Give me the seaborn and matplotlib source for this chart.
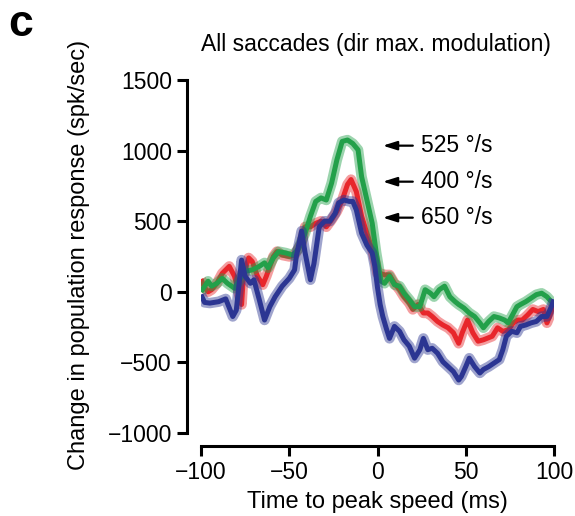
import numpy as np
import pandas as pd
import matplotlib
matplotlib.use("Agg")
import matplotlib.pyplot as plt
import seaborn as sns

# ---- data ----
t_650 = [-100, -98, -95, -90, -86, -82, -80, -77, -75, -72, -70, -67, -64, -61, -58, -54, -50, -47, -46, -43,
         -41, -38, -36, -33, -30, -27, -24, -22, -19, -16, -14, -12, -9, -6, -3, -1.5, 0, 1.5, 3, 5,
         6.8, 9.6, 12.5, 15, 18, 21, 24, 26, 28.5, 31, 34, 37, 40, 43, 46, 47.5, 50, 52, 55, 58,
         60, 63, 66, 69, 71, 73, 76, 79, 81, 84, 87, 90, 93, 96, 98.5, 100]
v_650 = [-20, -75, -80, -70, -50, -175, -130, 225, 110, 60, 85, -55, -200, -105, -35, 40, 95, 155, 250, 430,
         275, 85, 200, 460, 500, 500, 555, 630, 650, 640, 640, 580, 415, 330, 275, 180, 30, -90, -175, -260,
         -330, -245, -280, -340, -385, -470, -410, -330, -410, -400, -435, -495, -530, -565, -625, -600, -530, -470, -530, -575,
         -550, -530, -505, -480, -410, -315, -280, -290, -245, -235, -220, -210, -175, -175, -105, -55]

t_400 = [-100, -98, -96, -94, -91, -88, -84, -81, -77, -76, -73, -71, -68, -65, -63, -59, -57, -54, -50, -47,
         -43, -41, -38, -35, -32, -29, -26, -23, -20, -17, -15, -12, -9, -6, -3, -1, 0, 1.5, 4, 6.8,
         9.6, 12.5, 15, 18, 20, 23, 26, 28.5, 31, 34, 37, 40, 43, 46, 48, 51, 54, 57, 60, 62,
         65, 68, 71, 74, 77, 79.5, 82, 85, 88, 91, 94, 96, 97.5, 100]
v_400 = [90, 30, 0, 15, 60, 130, 180, 110, -90, 110, 240, 215, 110, 50, 110, 250, 285, 260, 250, 260,
         345, 460, 460, 485, 500, 460, 510, 570, 650, 760, 795, 710, 535, 415, 300, 200, 130, 130, 120, 120,
         60, 15, -35, -80, -125, -90, -150, -150, -175, -210, -235, -255, -290, -365, -290, -200, -290, -350, -340, -330,
         -315, -255, -280, -270, -220, -200, -200, -165, -125, -140, -125, -220, -175, -80]

t_525 = [-100, -96, -94, -91, -88, -85, -81, -77, -75, -71, -67, -64, -62, -59, -56, -52, -48, -45, -41, -38,
         -35, -32, -29, -26, -23, -20, -17, -14, -11, -9, -6, -3, -0.7, 2, 4, 6.8, 9.6, 12.5, 15, 18,
         21, 24, 27, 30, 32, 35, 38, 41, 44, 46, 49, 52, 55, 58, 60, 63, 66, 69, 72, 74,
         76, 79, 81, 84, 87, 90, 93, 96, 98.5, 100]
v_525 = [0, 75, 40, 60, 95, 60, 25, 110, 145, 155, 180, 205, 170, 240, 285, 275, 260, 300, 415, 535,
         640, 665, 650, 770, 935, 1065, 1075, 1050, 1005, 815, 650, 485, 275, 75, 60, 110, 50, 40, -10, -55,
         -105, -105, 15, -10, -35, 15, 40, -35, -70, -90, -115, -150, -175, -220, -255, -210, -175, -185, -200, -220,
         -175, -105, -90, -70, -45, -20, -10, -35, -70, -80]

labels = ["400 \u00b0/s", "525 \u00b0/s", "650 \u00b0/s"]
label_y = [780, 1035, 525]
y_ticks = [-1000, -500, 0, 500, 1000, 1500]
x_ticks = [-100, -50, 0, 50, 100]

colors = {"400": "#e8262b", "525": "#23a04a", "650": "#2b3592"}

series = [("400", t_400, v_400), ("525", t_525, v_525), ("650", t_650, v_650)]

sns.set_theme(style="ticks")
plt.rcParams["font.family"] = ["Liberation Sans", "DejaVu Sans"]
plt.rcParams["text.color"] = "black"
plt.rcParams["axes.labelcolor"] = "black"
plt.rcParams["xtick.color"] = "black"
plt.rcParams["ytick.color"] = "black"

fig = plt.figure(figsize=(5.75, 5.16), dpi=100)
ax = fig.add_axes([201 / 575, 83 / 516, 353 / 575, 353 / 516])

for name, t, v in series:
    df = pd.DataFrame({"t": t, "v": v})
    sns.lineplot(data=df, x="t", y="v", ax=ax, color=colors[name], linewidth=7.5,
                 alpha=0.45, estimator=None, sort=False, solid_capstyle="butt")
    sns.lineplot(data=df, x="t", y="v", ax=ax, color=colors[name], linewidth=3.6,
                 estimator=None, sort=False, solid_capstyle="butt")

ax.set_xlim(-100, 100)
ax.set_ylim(-1000, 1500)
ax.set_xticks(x_ticks)
ax.set_yticks(y_ticks)
ax.tick_params(axis="both", labelsize=16.5, length=7, width=2.2, color="black", direction="out", pad=4)
sns.despine(ax=ax, offset={"left": 10, "bottom": 9})
for s in ["left", "bottom"]:
    ax.spines[s].set_linewidth(2.2)
    ax.spines[s].set_color("black")

ax.set_xlabel("Time to peak speed (ms)", fontsize=17, labelpad=5)
ax.set_ylabel("")
fig.text(79 / 575, 1 - 255 / 516, "Change in population response (spk/sec)", fontsize=17,
         rotation=90, ha="center", va="center")

for lab, y in zip(labels, label_y):
    ax.annotate("", xy=(3, y), xytext=(20, y),
                arrowprops=dict(arrowstyle="-|>,head_width=0.22,head_length=0.7",
                                color="black", lw=1.6, shrinkA=0, shrinkB=0))
    ax.text(24.5, y, lab, fontsize=16.5, ha="left", va="center")

fig.text(376 / 575, 1 - 44 / 516, "All saccades (dir max. modulation)", fontsize=16.5,
         ha="center", va="center")
fig.text(8 / 575, 1 - 36 / 516, "c", fontsize=32, fontweight="heavy", ha="left", va="baseline")

fig.savefig("out.png", dpi=100)
